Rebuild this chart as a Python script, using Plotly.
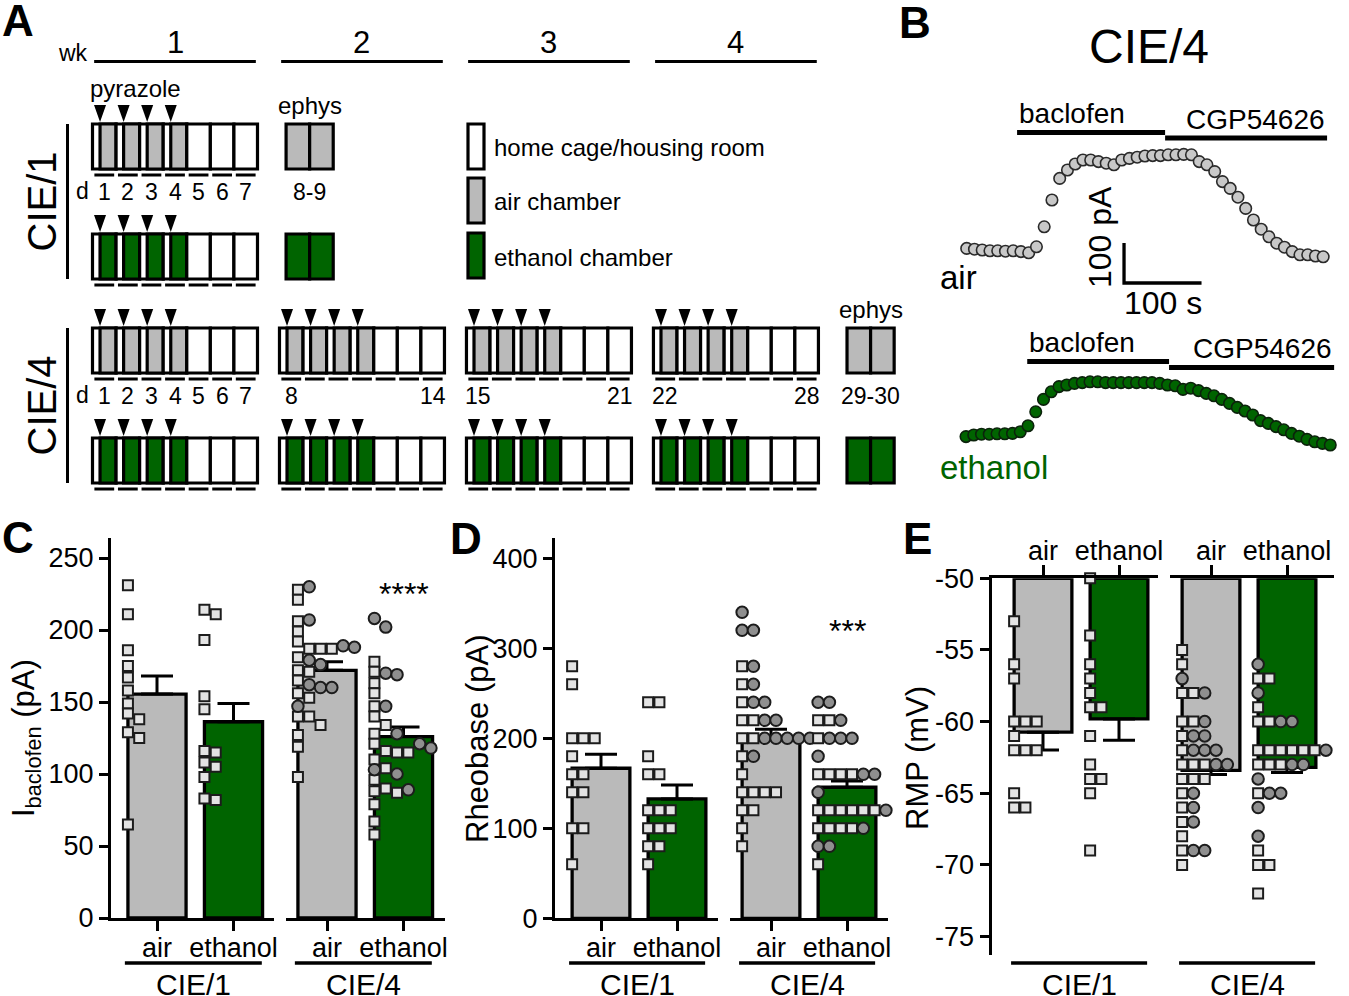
import plotly.graph_objects as go

W, H = 1349, 996
FONT = "Liberation Sans, Arial, Helvetica, sans-serif"
GRAY = "#bababa"
GREEN = "#006400"
SQ_FILL = "#e3e3e3"
CI_FILL = "#8f8f8f"
TRACE_GRAY = "#c8c8c8"
EDGE = "#1c1c1c"

# ======================= DATA =======================
# ---- A: exposure protocol ----
WEEK_LABELS = ["1", "2", "3", "4"]
DAYS_IN_WEEK = [1, 2, 3, 4, 5, 6, 7]
VAPOR_DAYS = [1, 2, 3, 4]
SCHEDULES = ["CIE/1", "CIE/4"]
SCHEDULE_WEEKS = [[1], [1, 2, 3, 4]]
EPHYS_DAYS = ["8-9", "29-30"]
CHAMBERS = ["air", "ethanol"]
LEGEND_LABELS = ["home cage/housing room", "air chamber", "ethanol chamber"]

# ---- B: example baclofen currents (CIE/4) ----
SAMPLE_INTERVAL_S = 10
AIR_TRACE_PA = [4, 2, 0, -2, -2, -3, -2, -4, -7, 8, 58, 125, 179, 200, 215, 225, 225, 221,
                217, 213, 225, 229, 232, 235, 236, 236, 238, 238, 239, 238, 221, 213, 196,
                171, 154, 132, 104, 75, 52, 33, 17, 7, -4, -12, -12, -15, -17]
ETH_TRACE_PA = [-4, 0, 2, 2, 3, 3, 4, 8, 23, 58, 89, 108, 121, 125, 129, 131, 133, 133, 131,
                131, 131, 131, 131, 131, 131, 129, 125, 123, 114, 117, 111, 104, 98, 89, 79,
                69, 60, 50, 36, 29, 21, 13, 4, -3, -11, -17, -21, -25]
DRUGS = ["baclofen", "CGP54626"]
AIR_DRUG_START_S = [65, 256]
AIR_DRUG_END_S = [256, 465]
ETH_DRUG_START_S = [79, 262]
ETH_DRUG_END_S = [262, 475]
SCALE_TIME_S = 100
SCALE_CURRENT_PA = 100

# ---- C/D/E common ----
GROUPS = ["CIE/1", "CIE/4"]
CONDITIONS = ["air", "ethanol"]

# ---- C: I_baclofen (pA) ----
C_MEAN = [[155.5, 136.3], [172.0, 126.0]]
C_SEM = [[12.5, 12.7], [6.0, 6.6]]
C_CIE1_AIR_SQ = [231, 211, 186, 175, 167, 158, 149, 142, 138, 129, 125, 65]
C_CIE1_ETH_SQ = [214, 211, 193, 154, 145, 116, 115, 108, 105, 98, 83, 82]
C_CIE4_AIR_SQ = [228, 221, 206, 199, 192, 187, 187, 187, 181, 172, 171, 165, 156, 153,
                 140, 140, 134, 127, 119, 98]
C_CIE4_AIR_CI = [230, 207, 189, 188, 179, 176, 162, 160, 160, 147]
C_CIE4_ETH_SQ = [178, 171, 163, 156, 147, 140, 134, 128, 121, 116, 115, 115, 110, 104,
                 96, 90, 88, 87, 79, 67, 58]
C_CIE4_ETH_CI = [208, 202, 170, 169, 147, 128, 121, 118, 103, 100, 89]

# ---- D: Rheobase (pA) ----
D_MEAN = [[166.7, 132.6], [201.0, 145.6]]
D_SEM = [[15.5, 15.5], [9.0, 7.0]]
D_CIE1_AIR_SQ = [280, 260, 200, 200, 200, 180, 160, 160, 140, 140, 100, 100, 60]
D_CIE1_ETH_SQ = [240, 240, 180, 160, 160, 120, 120, 120, 100, 100, 100, 80, 80, 60]
D_CIE4_AIR_SQ = [280, 260, 240, 220, 220, 200, 200, 180, 160, 140, 140, 140, 140, 120,
                 120, 100, 80]
D_CIE4_AIR_CI = [340, 320, 320, 280, 260, 240, 240, 220, 220, 200, 200, 200, 200, 200, 180]
D_CIE4_ETH_SQ = [220, 220, 200, 160, 160, 160, 160, 120, 120, 120, 120, 120, 120,
                 100, 100, 100, 100, 60]
D_CIE4_ETH_CI = [240, 240, 220, 200, 200, 200, 180, 160, 160, 140, 120, 100, 80, 80]

# ---- E: RMP (mV) ----
E_MEAN = [[-60.74, -59.81], [-63.4, -63.2]]
E_SEM = [[1.24, 1.5], [0.3, 0.35]]
E_CIE1_AIR_SQ = [-53, -56, -57, -60, -60, -60, -61, -62, -62, -62, -65, -66, -66]
E_CIE1_ETH_SQ = [-50, -54, -56, -57, -58, -59, -59, -61, -63, -64, -64, -65, -69]
E_CIE4_AIR_SQ = [-55, -56, -58, -58, -60, -60, -61, -62, -63, -63, -63, -64, -64, -64,
                 -65, -66, -67, -68, -69, -70]
E_CIE4_AIR_CI = [-57, -58, -60, -61, -61, -62, -62, -62, -63, -63, -65, -66, -67, -69, -69]
E_CIE4_ETH_SQ = [-57, -57, -59, -60, -60, -62, -62, -62, -62, -62, -62, -63, -63, -63,
                 -65, -69, -70, -70, -72]
E_CIE4_ETH_CI = [-56, -58, -60, -60, -62, -62, -63, -63, -64, -65, -65, -66, -68]

# ======================= HELPERS =======================
fig = go.Figure()
shapes, annotations, axes = [], [], {}


def fx(px):
    return px / W


def fy(py):
    return 1 - py / H


def text(x, y, s, size, xref="paper", yref="paper", xanchor="center", yanchor="middle",
         color="black", angle=0, bold=False):
    if xref == "paper":
        x = fx(x)
    if yref == "paper":
        y = fy(y)
    annotations.append(dict(x=x, y=y, xref=xref, yref=yref,
                            text=("<b>%s</b>" % s) if bold else s, showarrow=False,
                            xanchor=xanchor, yanchor=yanchor, textangle=angle,
                            font=dict(family=FONT, size=size, color=color)))


def rect(x0, x1, y0, y1, fill, xref="x", yref="y", lw=3.2):
    shapes.append(dict(type="rect", xref=xref, yref=yref, x0=x0, x1=x1, y0=y0, y1=y1,
                       fillcolor=fill, line=dict(color="black", width=lw)))


def seg(x0, y0, x1, y1, xref="x", yref="y", lw=3.0):
    shapes.append(dict(type="line", xref=xref, yref=yref, x0=x0, y0=y0, x1=x1, y1=y1,
                       line=dict(color="black", width=lw)))


# ======================= PANEL A =======================
A_CELL = 23.57       # px per day
A_X0 = 92.5          # px of first day edge
WEEK_STEP = 7.933    # days + gap
A_RIGHT = 935
axes["xaxis"] = dict(domain=[0, fx(A_RIGHT)], range=[-A_X0 / A_CELL, (A_RIGHT - A_X0) / A_CELL],
                     visible=False, anchor="y", automargin=False)
axes["yaxis"] = dict(domain=[fy(500), 1], range=[500, 0], visible=False, anchor="x", automargin=False)
fig.add_trace(go.Scatter(x=[0], y=[0], xaxis="x", yaxis="y", mode="markers",
                         marker=dict(opacity=0), hoverinfo="skip", showlegend=False))

ROW_TOP = [124, 234, 328, 438]
BOX_H = 45
STRIP = 0.32
EPHYS_SHIFT = 0.28


def u_of(week, day):
    return (week - 1) * WEEK_STEP + (day - 1)


for w, lab in enumerate(WEEK_LABELS, start=1):
    seg(u_of(w, 1) + 0.07, 61.5, u_of(w, 7) + 0.93, 61.5, lw=3)
    text(u_of(w, 1) + 3.5, 42, lab, 31, xref="x", yref="y")
text(73, 53, "wk", 23)

chamber_colors = [GRAY, GREEN]
for si, (sched, weeks, ephys) in enumerate(zip(SCHEDULES, SCHEDULE_WEEKS, EPHYS_DAYS)):
    for ci, chamber in enumerate(CHAMBERS):
        top = ROW_TOP[2 * si + ci]
        bot = top + BOX_H
        col = chamber_colors[ci]
        for w in weeks:
            for d in DAYS_IN_WEEK:
                u = u_of(w, d)
                rect(u, u + 1, top, bot, "white")
                if d in VAPOR_DAYS:
                    rect(u + STRIP, u + 1, top, bot, col)
                    xa = u + STRIP
                    shapes.append(dict(type="path", xref="x", yref="y",
                                       path="M %f,%f L %f,%f L %f,%f Z" % (
                                           xa - 0.255, top - 19, xa + 0.255, top - 19, xa, top - 2),
                                       fillcolor="black", line=dict(width=0)))
                seg(u + 0.08, bot + 6, u + 0.92, bot + 6, lw=3)
        ue = u_of(len(weeks) + 1, 1) + EPHYS_SHIFT
        for k in range(2):
            rect(ue + k, ue + k + 1, top, bot, col)
        if ci == 0:
            text(ue + 1, top - 19, "ephys", 24, xref="x", yref="y")
            text(ue + 1, top + 68, ephys, 23, xref="x", yref="y")
            text(-0.42, top + 67, "d", 23, xref="x", yref="y")
            for w in weeks:
                for d in DAYS_IN_WEEK:
                    absday = (w - 1) * 7 + d
                    if w == 1 or d in (1, 7):
                        text(u_of(w, d) + 0.5, top + 68, str(absday), 23, xref="x", yref="y")
            if si == 0:
                xs = [u_of(1, d) + STRIP for d in VAPOR_DAYS]
                text(sum(xs) / len(xs), top - 36, "pyrazole", 24, xref="x", yref="y")
    ytop = ROW_TOP[2 * si]
    ybot = ROW_TOP[2 * si + 1] + BOX_H
    seg(fx(67.5), fy(ytop), fx(67.5), fy(ybot), xref="paper", yref="paper", lw=3)
    text(42, (ytop + ybot) / 2, sched, 40, angle=-90)

LEG_TOP = [124, 178, 233]
for lab, col, top in zip(LEGEND_LABELS, ["white", GRAY, GREEN], LEG_TOP):
    rect(fx(468), fx(484), fy(top), fy(top + 45), col, xref="paper", yref="paper")
    text(492, top + 24, lab, 24, xanchor="left")

# ======================= PANEL B =======================
B_PX_PER_S = 0.775
B_PX_PER_PA = 0.4
B_LEFT, B_RIGHT = 930, 1349


def b_axes(n, t0_px, zero_px, top_px, bot_px):
    axes["xaxis%d" % n] = dict(domain=[fx(B_LEFT), fx(B_RIGHT)],
                               range=[(B_LEFT - t0_px) / B_PX_PER_S, (B_RIGHT - t0_px) / B_PX_PER_S],
                               visible=False, anchor="y%d" % n, automargin=False)
    axes["yaxis%d" % n] = dict(domain=[fy(bot_px), fy(top_px)],
                               range=[(zero_px - bot_px) / B_PX_PER_PA, (zero_px - top_px) / B_PX_PER_PA],
                               visible=False, anchor="x%d" % n, automargin=False)


b_axes(2, 966.7, 250, 90, 300)
b_axes(3, 966.0, 435, 310, 490)

for n, trace, fill, edge in [(2, AIR_TRACE_PA, TRACE_GRAY, "#2a2a2a"), (3, ETH_TRACE_PA, GREEN, "#0b220b")]:
    fig.add_trace(go.Scatter(x=[i * SAMPLE_INTERVAL_S for i in range(len(trace))], y=trace,
                             xaxis="x%d" % n, yaxis="y%d" % n, mode="markers",
                             marker=dict(size=11.5, color=fill, line=dict(color=edge, width=1.6)),
                             cliponaxis=False, showlegend=False, hoverinfo="skip"))

AIR_DRUG_BAR_PX = [132.5, 138]
ETH_DRUG_BAR_PX = [361.5, 367.5]
for n, starts, ends, ypxs in [(2, AIR_DRUG_START_S, AIR_DRUG_END_S, AIR_DRUG_BAR_PX),
                              (3, ETH_DRUG_START_S, ETH_DRUG_END_S, ETH_DRUG_BAR_PX)]:
    for i, (name, s, e, ypx) in enumerate(zip(DRUGS, starts, ends, ypxs)):
        seg(s, fy(ypx), e, fy(ypx), xref="x%d" % n, yref="paper", lw=5)
        if i == 0:
            text(s, ypx - 19, name, 28, xref="x%d" % n, xanchor="left")
        else:
            text(e, ypx - 19, name, 28, xref="x%d" % n, xanchor="right")

SB_T0, SB_I0 = 203, -82.5
shapes.append(dict(type="path", xref="x2", yref="y2",
                   path="M %f,%f L %f,%f L %f,%f" % (SB_T0, SB_I0 + SCALE_CURRENT_PA, SB_T0, SB_I0,
                                                    SB_T0 + SCALE_TIME_S, SB_I0),
                   line=dict(color="black", width=3.3)))
text(1100, 237, "%d pA" % SCALE_CURRENT_PA, 32, angle=-90)
text(1163, 303, "%d s" % SCALE_TIME_S, 32)
text(938, 277, "air", 33, xanchor="left")
text(938, 467, "ethanol", 33, xanchor="left", color=GREEN)
text(1149, 46, "CIE/4", 48)

# ======================= PANELS C, D, E =======================
BAR_W = 0.76
SLOT_PX = 11.3
SEP_PX = 10.0


def swarm(sq, ci, center, px_per_val, px_per_unit):
    pts = [(v, "sq") for v in sorted(sq, reverse=True)] + [(v, "ci") for v in sorted(ci, reverse=True)]
    placed = []
    out = {"sq": ([], []), "ci": ([], [])}
    left = center - BAR_W / 2
    for v, k in pts:
        ypx = v * px_per_val
        s = 0
        while any(ps == s and abs(py - ypx) < SEP_PX for ps, py in placed):
            s += 1
        placed.append((s, ypx))
        out[k][0].append(left + s * SLOT_PX / px_per_unit)
        out[k][1].append(v)
    return out


PANELS = [
    dict(yn=4, xn=(4, 5), ydom=(538, 918), yr=(0, (918 - 538) / 1.44), yticks=[0, 50, 100, 150, 200, 250],
         xdoms=((111, 274), (286, 445)), c0=(157, 327), unit=76.5, means=C_MEAN, sems=C_SEM,
         sq=[[C_CIE1_AIR_SQ, C_CIE1_ETH_SQ], [C_CIE4_AIR_SQ, C_CIE4_ETH_SQ]],
         ci=[[[], []], [C_CIE4_AIR_CI, C_CIE4_ETH_CI]], base=0, side="bottom", standoff=-7),
    dict(yn=5, xn=(6, 7), ydom=(538, 918.3), yr=(0, (918.3 - 538) / 0.9), yticks=[0, 100, 200, 300, 400],
         xdoms=((555, 718), (730, 888)), c0=(601, 771), unit=76, means=D_MEAN, sems=D_SEM,
         sq=[[D_CIE1_AIR_SQ, D_CIE1_ETH_SQ], [D_CIE4_AIR_SQ, D_CIE4_ETH_SQ]],
         ci=[[[], []], [D_CIE4_AIR_CI, D_CIE4_ETH_CI]], base=0, side="bottom", standoff=-7),
    dict(yn=6, xn=(8, 9), ydom=(578.3, 955), yr=(-50 - (955 - 578.3) / 14.33, -50),
         yticks=[-75, -70, -65, -60, -55, -50],
         xdoms=((991.7, 1158), (1170, 1334)), c0=(1043, 1211), unit=76, means=E_MEAN, sems=E_SEM,
         sq=[[E_CIE1_AIR_SQ, E_CIE1_ETH_SQ], [E_CIE4_AIR_SQ, E_CIE4_ETH_SQ]],
         ci=[[[], []], [E_CIE4_AIR_CI, E_CIE4_ETH_CI]], base=-50, side="top", standoff=-6),
]

for p in PANELS:
    yn = p["yn"]
    ytop, ybot = p["ydom"]
    axes["yaxis%d" % yn] = dict(domain=[fy(ybot), fy(ytop)], range=list(p["yr"]), anchor="x%d" % p["xn"][0],
                                tickvals=p["yticks"], ticktext=[str(t) for t in p["yticks"]],
                                ticks="outside", ticklen=9, tickwidth=3, tickcolor="black",
                                showline=True, linewidth=3.3, linecolor="black",
                                showgrid=False, zeroline=False, automargin=False,
                                tickfont=dict(family=FONT, size=27, color="black"))
    px_per_val = (ybot - ytop) / (p["yr"][1] - p["yr"][0])
    for g, xn in enumerate(p["xn"]):
        d0, d1 = p["xdoms"][g]
        c0 = p["c0"][g]
        unit = p["unit"]
        axes["xaxis%d" % xn] = dict(domain=[fx(d0), fx(d1)], range=[-(c0 - d0) / unit, (d1 - c0) / unit],
                                    anchor="y%d" % yn, side=p["side"],
                                    tickvals=[0, 1], ticktext=CONDITIONS,
                                    ticks="outside", ticklen=10, tickwidth=3, tickcolor="black",
                                    ticklabelstandoff=p["standoff"],
                                    showline=True, linewidth=3.3, linecolor="black",
                                    showgrid=False, zeroline=False, automargin=False,
                                    tickfont=dict(family=FONT, size=27, color="black"))
        means = p["means"][g]
        sems = p["sems"][g]
        base = p["base"]
        fig.add_trace(go.Bar(x=[0, 1], y=[m - base for m in means], base=[base, base] if base else None,
                             width=BAR_W, xaxis="x%d" % xn, yaxis="y%d" % yn,
                             marker=dict(color=[GRAY, GREEN], line=dict(color="black", width=3.3)),
                             showlegend=False, hoverinfo="skip"))
        if base == 0:
            err = dict(type="data", symmetric=False, array=sems, arrayminus=[0, 0])
        else:
            err = dict(type="data", symmetric=False, array=[0, 0], arrayminus=sems)
        err.update(color="black", thickness=3, width=16)
        fig.add_trace(go.Scatter(x=[0, 1], y=means, mode="markers", xaxis="x%d" % xn, yaxis="y%d" % yn,
                                 marker=dict(size=2, color="rgba(0,0,0,0)"), error_y=err,
                                 showlegend=False, hoverinfo="skip"))
        for i in range(2):
            sw = swarm(p["sq"][g][i], p["ci"][g][i], i, px_per_val, unit)
            for kind, sym, fill, size in [("sq", "square", SQ_FILL, 10), ("ci", "circle", CI_FILL, 11.5)]:
                xs, ys = sw[kind]
                if xs:
                    fig.add_trace(go.Scatter(x=xs, y=ys, mode="markers", xaxis="x%d" % xn, yaxis="y%d" % yn,
                                             marker=dict(symbol=sym, size=size, color=fill,
                                                         line=dict(color=EDGE, width=2)),
                                             cliponaxis=False, showlegend=False, hoverinfo="skip"))
        seg(-0.42, fy(963), 1.37, fy(963), xref="x%d" % xn, yref="paper", lw=3.5)
        text(0.48, 984, GROUPS[g], 30, xref="x%d" % xn)

text(1, 594, "****", 32, xref="x5")
text(1, 631, "***", 32, xref="x7")
text(26, 738, "I<sub>baclofen</sub> (pA)", 31, angle=-90)
text(477, 739, "Rheobase (pA)", 31, angle=-90)
text(917, 758, "RMP (mV)", 31, angle=-90)

for lab, x, y in [("A", 18, 20), ("B", 915, 22), ("C", 18, 537), ("D", 466, 538), ("E", 917, 538)]:
    text(x, y, lab, 44, bold=True)

fig.update_layout(width=W, height=H, margin=dict(l=0, r=0, t=0, b=0, pad=0, autoexpand=False),
                  autosize=False, template="none",
                  paper_bgcolor="white", plot_bgcolor="rgba(0,0,0,0)", showlegend=False,
                  shapes=shapes, annotations=annotations, font=dict(family=FONT), barmode="overlay",
                  **axes)

fig.write_html("out.html", config={"displayModeBar": False},
               post_script="document.body.style.margin='0px';")
